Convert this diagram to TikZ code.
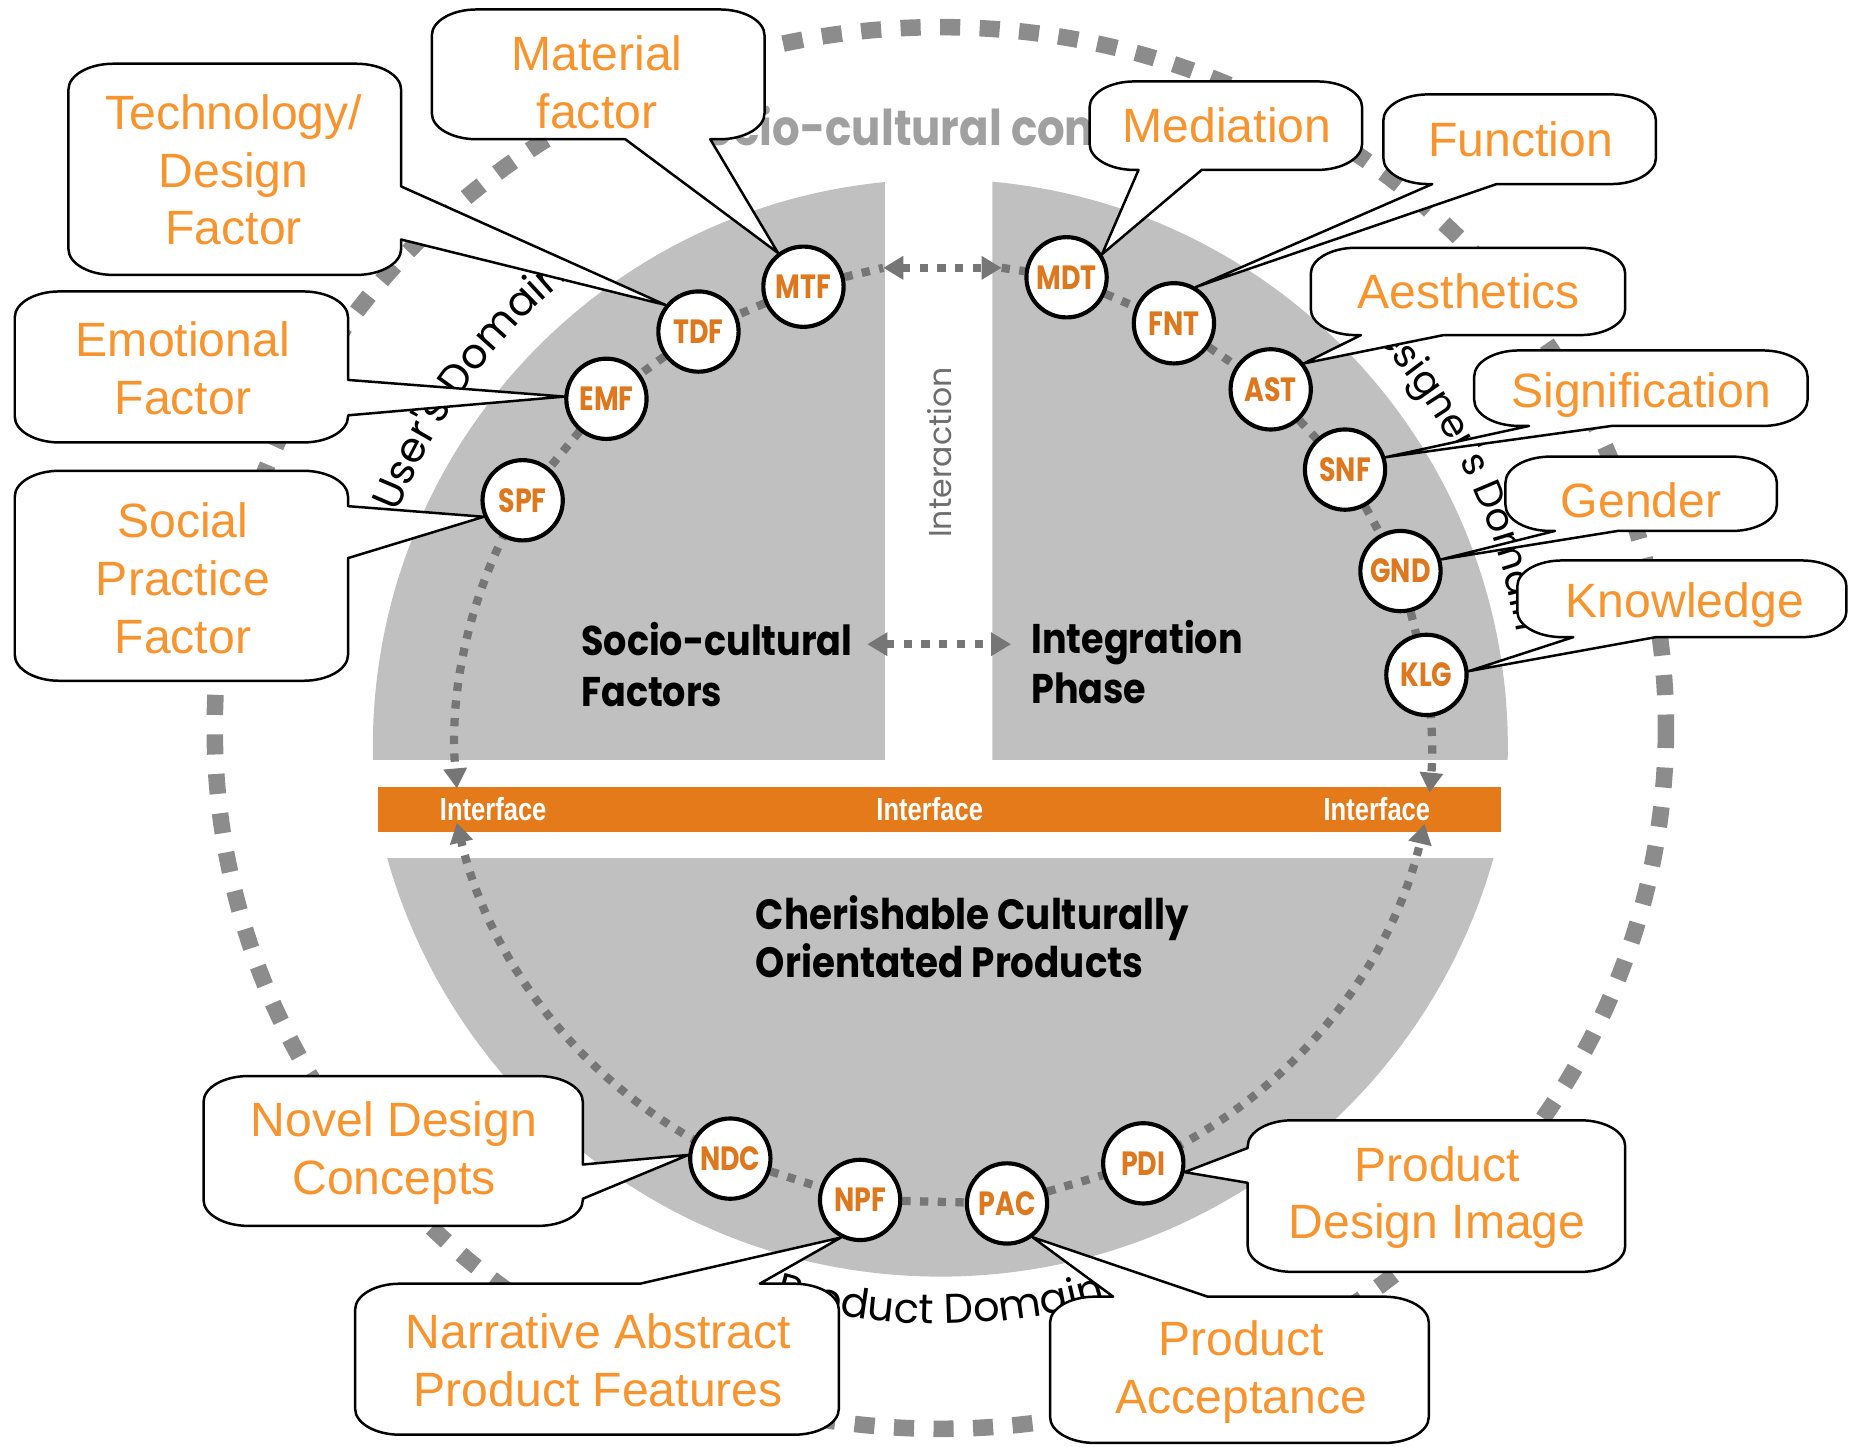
\documentclass[tikz,border=0pt]{standalone}
\usepackage{fontspec}
\setmainfont{Liberation Sans}
\newfontfamily\calfont{Liberation Sans}
\newfontfamily\narrowfont{Liberation Sans}[FakeStretch=0.8]
\newfontfamily\geo{Poppins}
\newfontfamily\geoC{Poppins}[FakeStretch=0.88]
\newfontfamily\geoN{Poppins}[FakeStretch=0.8]
\usetikzlibrary{arrows.meta,decorations.text}
\definecolor{ringgray}{RGB}{140,140,140}
\definecolor{piecegray}{RGB}{192,192,192}
\definecolor{dotgray}{RGB}{118,118,118}
\definecolor{barorange}{RGB}{229,122,27}
\definecolor{calloutorange}{RGB}{247,148,45}
\definecolor{nodeorange}{RGB}{222,120,30}
\definecolor{toptext}{RGB}{160,160,160}
\definecolor{interact}{RGB}{110,110,110}
\pgfdeclarelayer{back}
\pgfdeclarelayer{mid}
\pgfsetlayers{back,mid,main}
\def\crx{38}
\def\cry{22}
% pointer on bottom edge
\newcommand\calloutB[7]{%
 \filldraw[cbox] (#1+\crx,#2) -- (#3-\crx,#2)
  arc[start angle=-90,end angle=0,x radius=\crx,y radius=\cry]
  -- (#3,#4-\cry)
  arc[start angle=0,end angle=90,x radius=\crx,y radius=\cry]
  -- (#6,#4) -- (#7) -- (#5,#4) -- (#1+\crx,#4)
  arc[start angle=90,end angle=180,x radius=\crx,y radius=\cry]
  -- (#1,#2+\cry)
  arc[start angle=180,end angle=270,x radius=\crx,y radius=\cry]
  -- cycle;}
% pointer on right edge
\newcommand\calloutR[7]{%
 \filldraw[cbox] (#1+\crx,#2) -- (#3-\crx,#2)
  arc[start angle=-90,end angle=0,x radius=\crx,y radius=\cry]
  -- (#3,#5) -- (#7) -- (#3,#6) -- (#3,#4-\cry)
  arc[start angle=0,end angle=90,x radius=\crx,y radius=\cry]
  -- (#1+\crx,#4)
  arc[start angle=90,end angle=180,x radius=\crx,y radius=\cry]
  -- (#1,#2+\cry)
  arc[start angle=180,end angle=270,x radius=\crx,y radius=\cry]
  -- cycle;}
% pointer on left edge
\newcommand\calloutL[7]{%
 \filldraw[cbox] (#1+\crx,#2) -- (#3-\crx,#2)
  arc[start angle=-90,end angle=0,x radius=\crx,y radius=\cry]
  -- (#3,#4-\cry)
  arc[start angle=0,end angle=90,x radius=\crx,y radius=\cry]
  -- (#1+\crx,#4)
  arc[start angle=90,end angle=180,x radius=\crx,y radius=\cry]
  -- (#1,#6) -- (#7) -- (#1,#5) -- (#1,#2+\cry)
  arc[start angle=180,end angle=270,x radius=\crx,y radius=\cry]
  -- cycle;}
% pointer on top edge
\newcommand\calloutT[7]{%
 \filldraw[cbox] (#1+\crx,#2) -- (#5,#2) -- (#7) -- (#6,#2) -- (#3-\crx,#2)
  arc[start angle=-90,end angle=0,x radius=\crx,y radius=\cry]
  -- (#3,#4-\cry)
  arc[start angle=0,end angle=90,x radius=\crx,y radius=\cry]
  -- (#1+\crx,#4)
  arc[start angle=90,end angle=180,x radius=\crx,y radius=\cry]
  -- (#1,#2+\cry)
  arc[start angle=180,end angle=270,x radius=\crx,y radius=\cry]
  -- cycle;}
\begin{document}
\begin{tikzpicture}[x=0.01cm,y=-0.01cm,
  ring/.style={draw=ringgray, line width=0.14cm, dash pattern=on 0.17cm off 0.165cm},
  dotline/.style={draw=dotgray, line width=0.07cm, dash pattern=on 0.07cm off 0.08cm},
  >={Triangle[length=0.17cm,width=0.19cm]},
  fnode/.style={circle, draw=black, line width=1pt, fill=white, minimum size=0.68cm, inner sep=0pt,
    font=\geoN\bfseries\fontsize{8.1}{9}\selectfont, text=nodeorange},
  cbox/.style={fill=white, draw=black, line width=0.6pt, line join=round},
  ctext/.style={font=\calfont\fontsize{11.6}{13.9}\selectfont, text=calloutorange, align=center, inner sep=0pt},
  iface/.style={font=\narrowfont\bfseries\fontsize{7.7}{9}\selectfont, text=white, inner sep=0pt},
  inlabel/.style={font=\geoC\bfseries\fontsize{10}{12.2}\selectfont, text=black, align=left, inner sep=0pt, anchor=west}
]
\useasboundingbox (0,0) rectangle (1568,1226);

\begin{pgfonlayer}{back}
  % outer dashed ring
  \draw[ring] (797,617) ellipse[x radius=615, y radius=594];
  % texts of the ring
  \node[anchor=base west, inner sep=0pt, text=toptext,
        font=\geoC\bfseries\fontsize{11.9}{13}\selectfont] (sctx) at (575,123) {Socio-cultural context};
  \path[decorate, decoration={text along path, text align=center,
     text={|\geo\fontsize{10}{12}\selectfont|User's Domain}}]
     (797,617) ++(-180:495) arc[start angle=-180,end angle=-108,radius=495];
  \path[decorate, decoration={text along path, text align=center,
     text={|\geo\fontsize{9.3}{11}\selectfont|Designer's Domain}}]
     (797,617) ++(-62:495) arc[start angle=-62,end angle=8,radius=495];
  \path[decorate, decoration={text along path, text align=center,
     text={|\geo\fontsize{10}{12}\selectfont|Product Domain}}]
     (797,617) ++(125:505) arc[start angle=125,end angle=55,radius=505];
  % gray pieces
  \begin{scope}
    \clip (300,100) rectangle (750,644);
    \fill[piecegray] (797,633) circle[radius=481];
  \end{scope}
  \begin{scope}
    \clip (841,100) rectangle (1300,644);
    \fill[piecegray] (797,633) circle[radius=481];
  \end{scope}
  \begin{scope}
    \clip (300,728) rectangle (1300,1100);
    \fill[piecegray] (797,595) circle[radius=487];
  \end{scope}
  % interface bar
  \fill[barorange] (320,667) rectangle (1272,705);
  \node[iface] (if1) at (418,686) {Interface};
  \node[iface] (if2) at (788,686) {Interface};
  \node[iface] (if3) at (1167,686) {Interface};
  % inner labels
  \node[inlabel] (scf) at (492,563) {Socio-cultural\\Factors};
  \node[inlabel] (ipf) at (873.5,561) {Integration\\Phase};
  \node[inlabel, font=\geoC\bfseries\fontsize{10.2}{11.7}\selectfont] (ccp) at (640,794) {Cherishable Culturally\\Orientated Products};
  \node[rotate=90, font=\geo\fontsize{7.6}{9}\selectfont, text=interact, inner sep=0pt] (inter) at (796,383.5) {Interaction};
\end{pgfonlayer}

% factor nodes
\node[fnode] (mtf) at (681,243) {MTF};
\node[fnode] (tdf) at (592,281) {TDF};
\node[fnode] (emf) at (514,338) {EMF};
\node[fnode] (spf) at (443,424) {SPF};
\node[fnode] (mdt) at (904,235) {MDT};
\node[fnode] (fnt) at (995,274) {FNT};
\node[fnode] (ast) at (1077,330) {AST};
\node[fnode] (snf) at (1140,398) {SNF};
\node[fnode] (gnd) at (1187,484) {GND};
\node[fnode] (klg) at (1209,572) {KLG};
\node[fnode] (ndc) at (619,982) {NDC};
\node[fnode] (npf) at (729,1017) {NPF};
\node[fnode] (pac) at (853.5,1020) {PAC};
\node[fnode] (pdi) at (969,986) {PDI};

\coordinate (ia) at (748.6,227);
\coordinate (ib) at (849,227);
\coordinate (sa) at (735,546);
\coordinate (sb) at (857,546);

\begin{pgfonlayer}{mid}
  \draw[dotline] (mtf) -- (tdf);
  \draw[dotline] (tdf) -- (emf);
  \draw[dotline] (emf) -- (spf);
  \draw[dotline] (mdt) -- (fnt);
  \draw[dotline] (fnt) -- (ast);
  \draw[dotline] (ast) -- (snf);
  \draw[dotline] (snf) -- (gnd);
  \draw[dotline] (gnd) -- (klg);
  \draw[dotline] (ndc) -- (npf);
  \draw[dotline] (npf) -- (pac);
  \draw[dotline] (pac) -- (pdi);
  \draw[dotline] (mtf) -- (ia);
  \draw[dotline,<->] (ia) -- (ib);
  \draw[dotline] (ib) -- (mdt);
  \draw[dotline,<->] (sa) -- (sb);
  \draw[dotline,->] (spf.center) arc[start angle=-149.4,end angle=-184.9,radius=411];
  \draw[dotline,->] (klg.center) arc[start angle=-8.4,end angle=5.4,radius=416];
  \draw[dotline,->] (ndc.center) arc[start angle=115,end angle=166.7,radius=421];
  \draw[dotline,->] (pdi.center) arc[start angle=66,end angle=13.3,radius=421];
\end{pgfonlayer}

% callouts
\calloutB{366}{8}{648}{118}{530}{602}{mtf.127}
\node[ctext] (tmat) at (506,70) {Material\\factor};
\calloutR{58}{54}{340}{233}{158}{203}{tdf.141}
\node[ctext] (ttech) at (198,144) {Technology/\\Design\\Factor};
\calloutR{12.5}{247}{295}{375}{322}{352}{emf.177}
\node[ctext] (temo) at (155,312) {Emotional\\Factor};
\calloutR{12.5}{399}{295}{577}{429}{473}{spf.203}
\node[ctext] (tsoc) at (155,490) {Social\\Practice\\Factor};
\calloutB{923.5}{69}{1154.5}{144}{965}{1018.5}{mdt.33}
\node[ctext] (tmed) at (1040,106) {Mediation};
\calloutB{1172.5}{80}{1403.5}{156}{1214}{1268.5}{fnt.59}
\node[ctext] (tfun) at (1289,118) {Function};
\calloutB{1111}{210}{1377.5}{284}{1153.5}{1223.5}{ast.38}
\node[ctext] (taes) at (1245,247) {Aesthetics};
\calloutB{1249.5}{297}{1532}{361}{1296}{1366}{snf.17}
\node[ctext] (tsig) at (1391,335) {Signification};
\calloutB{1276}{387}{1506}{450}{1318}{1371}{gnd.16}
\node[ctext] (tgen) at (1391,424) {Gender};
\calloutB{1286}{475}{1565}{540}{1333.5}{1403.5}{klg.5}
\node[ctext] (tkno) at (1428,513) {Knowledge};
\calloutR{172.5}{912}{494}{1039}{987}{1016}{ndc.175}
\node[ctext] (tnov) at (334,977) {Novel Design\\Concepts};
\calloutT{301}{1088}{711}{1216}{542.5}{644}{npf.243}
\node[ctext] (tnar) at (507,1153) {Narrative Abstract\\Product Features};
\calloutL{1057.5}{949.5}{1377.5}{1078}{973}{1002.5}{pdi.348}
\node[ctext] (tpdi) at (1218,1015) {Product\\Design Image};
\calloutT{890}{1099}{1211}{1223}{943.5}{1023.5}{pac.307}
\node[ctext] (tpac) at (1052,1163) {Product\\Acceptance};
\end{tikzpicture}
\end{document}
